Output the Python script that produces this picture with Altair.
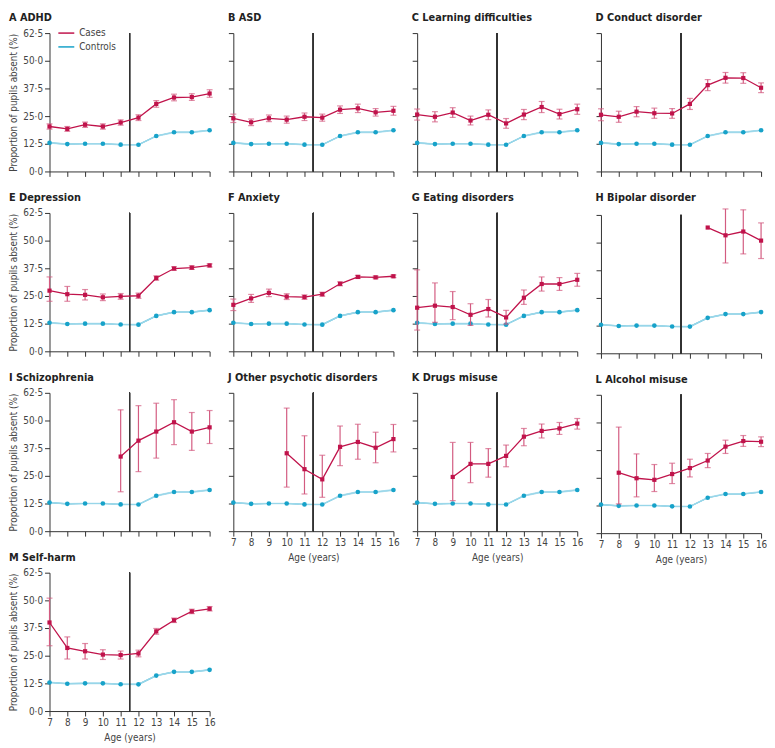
import altair as alt
import pandas as pd

ages = [7, 8, 9, 10, 11, 12, 13, 14, 15, 16]
controls = [12.9, 12.35, 12.5, 12.5, 12.1, 12.05, 16.0, 17.7, 17.7, 18.6]
controls_half_ci = [0.4, 0.35, 0.35, 0.35, 0.35, 0.35, 0.4, 0.4, 0.4, 0.4]

N = None
A_val = [20.3, 19.2, 21.1, 20.3, 22.1, 24.3, 30.5, 33.4, 33.6, 35.2]
A_err = [1.2, 1.1, 1.2, 1.2, 1.2, 1.3, 1.5, 1.5, 1.5, 1.7]
B_val = [24.0, 22.2, 24.0, 23.4, 24.7, 24.3, 27.9, 28.5, 26.7, 27.4]
B_err = [1.9, 1.5, 1.5, 1.6, 1.7, 1.6, 1.7, 1.9, 1.7, 2.0]
C_val = [25.7, 24.7, 26.6, 23.0, 25.6, 21.7, 25.7, 29.1, 25.9, 28.1]
C_err = [2.5, 2.3, 2.2, 2.0, 2.2, 2.2, 2.3, 2.5, 2.2, 2.3]
D_val = [25.6, 24.7, 27.0, 26.3, 26.2, 30.5, 39.0, 42.3, 42.2, 37.8]
D_err = [2.7, 2.5, 2.3, 2.3, 2.2, 2.5, 2.5, 2.4, 2.4, 2.2]
E_val = [27.4, 25.8, 25.5, 24.4, 24.8, 25.1, 33.1, 37.4, 37.8, 38.8]
E_lo = [22.6, 22.6, 23.2, 22.9, 23.5, 23.9, 32.1, 36.6, 37.0, 38.1]
E_hi = [33.6, 29.3, 27.9, 25.9, 26.1, 26.3, 34.1, 38.2, 38.6, 39.5]
F_val = [21.0, 23.9, 26.4, 24.7, 24.5, 25.8, 30.5, 33.6, 33.4, 33.9]
F_err = [2.6, 1.8, 1.7, 1.3, 1.0, 0.9, 0.9, 0.7, 0.6, 0.6]
G_val = [19.7, 20.6, 20.0, 16.5, 19.1, 15.3, 24.2, 30.4, 30.4, 32.3]
G_lo = [9.6, 13.1, 14.3, 11.7, 15.5, 12.3, 21.2, 27.2, 27.5, 29.4]
G_hi = [36.8, 30.9, 27.0, 21.5, 23.4, 18.5, 27.7, 33.6, 33.3, 35.2]
H_val = [N, N, N, N, N, N, 56.8, 53.3, 55.0, 50.9]
H_lo = [N, N, N, N, N, N, N, 40.8, 44.9, 42.8]
H_hi = [N, N, N, N, N, N, N, 65.2, 64.8, 58.9]
I_val = [N, N, N, N, 33.7, 40.9, 45.0, 49.2, 45.0, 46.9]
I_lo = [N, N, N, N, 17.8, 26.9, 33.0, 39.1, 36.5, 39.6]
I_hi = [N, N, N, N, 54.8, 56.7, 57.8, 59.4, 53.6, 54.5]
J_val = [N, N, N, 35.2, 28.0, 23.4, 38.1, 40.3, 37.7, 41.6]
J_lo = [N, N, N, 19.9, 16.8, 15.3, 29.6, 32.5, 30.9, 35.8]
J_hi = [N, N, N, 55.6, 43.1, 34.3, 47.5, 48.3, 44.7, 48.2]
K_val = [N, N, 24.5, 30.4, 30.4, 34.0, 42.7, 45.3, 46.4, 48.6]
K_lo = [N, N, 13.8, 21.9, 24.4, 29.1, 38.6, 42.1, 43.7, 46.1]
K_hi = [N, N, 40.1, 40.1, 37.3, 38.9, 46.4, 48.4, 49.1, 50.9]
L_val = [N, 27.3, 24.8, 24.1, 26.7, 29.4, 32.8, 39.1, 41.6, 41.3]
L_lo = [N, 13.2, 16.4, 18.8, 22.4, 25.4, 29.6, 36.0, 39.2, 39.1]
L_hi = [N, 47.9, 35.8, 31.0, 31.6, 33.4, 36.0, 42.0, 44.1, 43.5]
M_val = [40.0, 28.5, 27.0, 25.5, 25.3, 26.0, 36.0, 41.0, 45.0, 46.2]
M_lo = [29.5, 23.5, 23.5, 23.3, 23.5, 24.5, 34.7, 40.0, 44.0, 45.2]
M_hi = [51.0, 33.5, 30.5, 27.7, 27.1, 27.5, 37.3, 42.0, 46.0, 47.2]


def sym(vals, errs):
    lo = [None if v is None else round(v - e, 2) for v, e in zip(vals, errs)]
    hi = [None if v is None else round(v + e, 2) for v, e in zip(vals, errs)]
    return lo, hi


panels = {
    "A": ("ADHD", A_val, *sym(A_val, A_err)),
    "B": ("ASD", B_val, *sym(B_val, B_err)),
    "C": ("Learning difficulties", C_val, *sym(C_val, C_err)),
    "D": ("Conduct disorder", D_val, *sym(D_val, D_err)),
    "E": ("Depression", E_val, E_lo, E_hi),
    "F": ("Anxiety", F_val, *sym(F_val, F_err)),
    "G": ("Eating disorders", G_val, G_lo, G_hi),
    "H": ("Bipolar disorder", H_val, H_lo, H_hi),
    "I": ("Schizophrenia", I_val, I_lo, I_hi),
    "J": ("Other psychotic disorders", J_val, J_lo, J_hi),
    "K": ("Drugs misuse", K_val, K_lo, K_hi),
    "L": ("Alcohol misuse", L_val, L_lo, L_hi),
    "M": ("Self-harm", M_val, M_lo, M_hi),
}

CASE = "#c0134b"
CASE_ERR = "#d35b80"
CTRL = "#17a2c9"
CTRL_BAND = "#a6dcec"
AXC = "#333333"
FONT = "Liberation Sans Narrow, DejaVu Sans Condensed, Liberation Sans, sans-serif"

W, H = 162, 140
YTICKS = [0, 12.5, 25, 37.5, 50, 62.5]

ylabel_expr = "replace(format(datum.value, '.1f'), '.', '·')"
# panels without visible y labels keep a blank label so every panel has the same vertical bounds
blank_expr = "' '"


def panel(letter, show_y, show_x):
    name, vals, lo, hi = panels[letter]
    rows = []
    for i, a in enumerate(ages):
        rows.append(dict(age=a, group="Controls", value=controls[i],
                         lo=round(controls[i] - controls_half_ci[i], 2),
                         hi=round(controls[i] + controls_half_ci[i], 2)))
        if vals[i] is not None:
            rows.append(dict(age=a, group="Cases", value=vals[i], lo=lo[i], hi=hi[i]))
    df = pd.DataFrame(rows)

    xaxis = alt.Axis(values=ages, labels=show_x, title="Age (years)" if show_x else None,
                     grid=False, tickSize=5, labelFontSize=10, titleFontSize=10,
                     titleFontWeight="normal", labelPadding=2, titlePadding=5,
                     labelOverlap=False, labelFlush=False, labelSeparation=0,
                     domain=True)
    yaxis = alt.Axis(values=YTICKS, labels=True,
                     labelExpr=ylabel_expr if show_y else blank_expr,
                     title="Proportion of pupils absent (%)" if show_y else None,
                     grid=False, tickSize=5, labelFontSize=10, titleFontSize=10,
                     titleFontWeight="normal", labelPadding=2 if show_y else 0, titlePadding=4,
                     labelOverlap=False, labelFlush=False, domain=True)
    xs = alt.Scale(domain=[7, 16], nice=False, zero=False)
    ys = alt.Scale(domain=[0, 62.5], nice=False)
    x = alt.X("age:Q", scale=xs, axis=xaxis)
    y = alt.Y("value:Q", scale=ys, axis=yaxis)
    ylo = alt.Y("lo:Q", scale=ys, axis=yaxis)
    yhi = alt.Y("hi:Q", scale=ys, axis=yaxis)
    xline = alt.X(datum=11.5, type="quantitative", scale=xs, axis=xaxis)

    base = alt.Chart(df)
    ctrl = base.transform_filter(alt.datum.group == "Controls")
    cases = base.transform_filter(alt.datum.group == "Cases")
    cases_ci = cases.transform_filter("isValid(datum.lo)")

    color = alt.Color("group:N", scale=alt.Scale(domain=["Cases", "Controls"], range=[CASE, CTRL]),
                      legend=alt.Legend(title=None, orient="none", legendX=8, legendY=-9,
                                        symbolType="stroke", symbolStrokeWidth=1.5,
                                        symbolSize=260, labelFontSize=10, rowPadding=0,
                                        labelFont=FONT, labelColor="#444"))

    cline = ctrl.mark_line(strokeWidth=1.2).encode(x=x, y=y, color=color)
    band = ctrl.mark_area(color=CTRL_BAND, opacity=0.9).encode(x=x, y=ylo, y2="hi:Q")
    cpts = ctrl.mark_circle(size=22, opacity=1, color=CTRL).encode(x=x, y=y)
    vline = base.mark_rule(color=AXC, strokeWidth=1).encode(x=xline)
    err = cases_ci.mark_rule(color=CASE_ERR, strokeWidth=1.2).encode(x=x, y=ylo, y2="hi:Q")
    cap_lo = cases_ci.mark_tick(color=CASE_ERR, orient="horizontal", size=6, thickness=1.2).encode(x=x, y=ylo)
    cap_hi = cases_ci.mark_tick(color=CASE_ERR, orient="horizontal", size=6, thickness=1.2).encode(x=x, y=yhi)
    kline = cases.mark_line(strokeWidth=1.3).encode(x=x, y=y, color=color)
    kpts = cases.mark_square(size=18, opacity=1, color=CASE).encode(x=x, y=y)

    return alt.layer(cline, band, cpts, vline, err, cap_lo, cap_hi, kline, kpts).properties(
        width=W, height=H,
        title=alt.TitleParams(text=f"{letter}  {name}", anchor="start", frame="bounds",
                              fontSize=11, fontWeight=600, offset=5, font=FONT, color="#222"),
    )


VSP = 15
col1 = alt.vconcat(panel("A", True, False), panel("E", True, False),
                   panel("I", True, False), panel("M", True, True), spacing=VSP)
col2 = alt.vconcat(panel("B", False, False), panel("F", False, False),
                   panel("J", False, True), spacing=VSP)
col3 = alt.vconcat(panel("C", False, False), panel("G", False, False),
                   panel("K", False, True), spacing=VSP)
col4 = alt.vconcat(panel("D", False, False), panel("H", False, False),
                   panel("L", False, True), spacing=VSP)

chart = alt.hconcat(col1, col2, col3, col4, spacing=12).properties(padding=0).configure_view(
    stroke=None
).configure_axis(
    domainColor=AXC, tickColor=AXC, labelColor="#444", titleColor="#444",
    labelFont=FONT, titleFont=FONT, domainWidth=1, tickWidth=1, labelOverlap=False
)

chart.save("out.html", embed_options={"renderer": "svg", "actions": False})
